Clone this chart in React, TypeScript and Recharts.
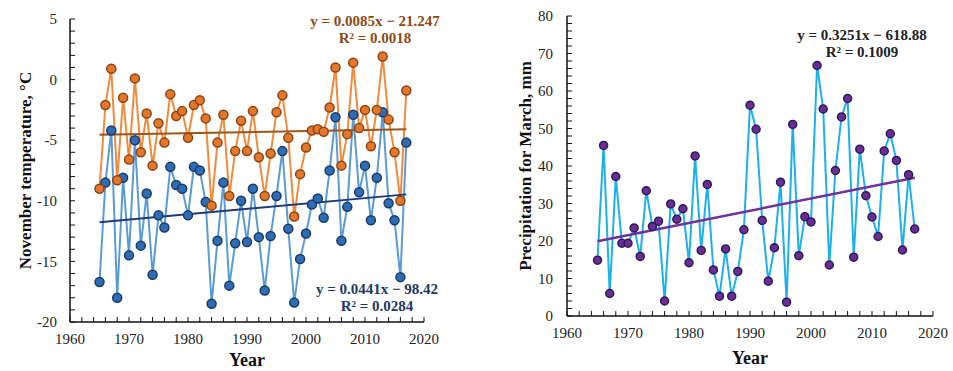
import { ComposedChart, Line, XAxis, YAxis } from 'recharts';

const years = [
  1965, 1966, 1967, 1968, 1969, 1970, 1971, 1972, 1973, 1974,
  1975, 1976, 1977, 1978, 1979, 1980, 1981, 1982, 1983, 1984,
  1985, 1986, 1987, 1988, 1989, 1990, 1991, 1992, 1993, 1994,
  1995, 1996, 1997, 1998, 1999, 2000, 2001, 2002, 2003, 2004,
  2005, 2006, 2007, 2008, 2009, 2010, 2011, 2012, 2013, 2014,
  2015, 2016, 2017,
];

// November temperature, upper (orange) series
const tempOrange = [
  -9.0, -2.1, 0.9, -8.3, -1.5, -6.6, 0.1, -6.0, -2.8, -7.1,
  -3.6, -5.2, -1.2, -3.0, -2.6, -4.8, -2.1, -1.7, -3.2, -10.4,
  -5.2, -2.9, -9.6, -5.9, -3.4, -5.9, -2.6, -6.4, -9.6, -6.1,
  -2.7, -1.3, -4.8, -11.3, -7.8, -5.6, -4.2, -4.1, -4.3, -2.3,
  1.0, -7.1, -4.5, 1.4, -4.0, -2.5, -5.5, -2.5, 1.9, -3.3,
  -6.0, -10.0, -0.9,
];

// November temperature, lower (blue) series
const tempBlue = [
  -16.7, -8.5, -4.2, -18.0, -8.1, -14.5, -5.0, -13.7, -9.4, -16.1,
  -11.2, -12.2, -7.2, -8.7, -9.0, -11.2, -7.2, -7.5, -10.1, -18.5,
  -13.3, -8.5, -17.0, -13.5, -10.0, -13.4, -9.0, -13.0, -17.4, -12.9,
  -9.6, -5.9, -12.3, -18.4, -14.8, -12.7, -10.3, -9.8, -11.4, -7.5,
  -3.1, -13.3, -10.5, -2.9, -9.3, -7.1, -11.6, -8.1, -2.7, -10.2,
  -11.6, -16.3, -5.2,
];

// March precipitation, mm
const precipMarch = [
  14.9, 45.5, 6.0, 37.2, 19.4, 19.4, 23.5, 15.9, 33.4, 23.9,
  25.3, 4.0, 29.9, 25.8, 28.6, 14.2, 42.7, 17.5, 35.1, 12.3,
  5.3, 17.9, 5.3, 11.9, 23.0, 56.2, 49.8, 25.5, 9.3, 18.2,
  35.7, 3.7, 51.1, 16.1, 26.5, 25.1, 66.8, 55.2, 13.6, 38.8,
  53.1, 58.0, 15.7, 44.5, 32.1, 26.4, 21.2, 44.0, 48.6, 41.5,
  17.6, 37.7, 23.2,
];

// linear trend end points (first and last year)
const trendYears = [1965, 2017];
const trendOrange = [-4.55, -4.10];
const trendBlue = [-11.76, -9.47];
const trendPrecip = [19.94, 36.85];

const xTickLabels = [1960, 1970, 1980, 1990, 2000, 2010, 2020];
const tempTickLabels = [5, 0, -5, -10, -15, -20];
const precipTickLabels = [0, 10, 20, 30, 40, 50, 60, 70, 80];

const range = (from: number, to: number, step: number) => {
  const out: number[] = [];
  for (let v = from; v <= to + 1e-9; v += step) out.push(v);
  return out;
};

const FONT = '"Liberation Serif", "Times New Roman", serif';

const tempData = years.map((year, i) => ({ year, orange: tempOrange[i], blue: tempBlue[i] }));
const precipData = years.map((year, i) => ({ year, precip: precipMarch[i] }));
const trendData = trendYears.map((year, i) => ({
  year,
  orange: trendOrange[i],
  blue: trendBlue[i],
  precip: trendPrecip[i],
}));

const makeTick = (labels: number[], anchor: 'end' | 'middle') => (props: any) => {
  const { x, y, payload } = props;
  if (!labels.includes(payload.value)) return <g />;
  return (
    <text
      x={x}
      y={y}
      dy={anchor === 'end' ? '0.35em' : '0.71em'}
      textAnchor={anchor}
      fontFamily={FONT}
      fontSize={15}
      fill="#222"
    >
      {payload.value}
    </text>
  );
};

const axisLine = { stroke: '#111', strokeWidth: 1.5 };
const tickLine = { stroke: '#111', strokeWidth: 1 };

const eqStyle = (color: string, left: number, top: number): React.CSSProperties => ({
  position: 'absolute',
  left,
  top,
  width: 180,
  textAlign: 'center',
  fontFamily: FONT,
  fontWeight: 'bold',
  fontSize: 15,
  lineHeight: '17px',
  color,
  whiteSpace: 'nowrap',
});

export default function App() {
  return (
    <div style={{ position: 'absolute', left: 0, top: 0, width: 953, height: 371, background: '#fff' }}>
      <div style={{ position: 'absolute', left: 0, top: 0 }}>
        <ComposedChart width={440} height={371} data={tempData} margin={{ top: 19, right: 16, bottom: 0, left: 0 }}>
          <XAxis
            dataKey="year"
            type="number"
            domain={[1960, 2020]}
            ticks={range(1960, 2020, 2)}
            interval={0}
            height={49}
            axisLine={axisLine}
            tickLine={tickLine}
            tickSize={-5}
            tickMargin={16}
            tick={makeTick(xTickLabels, 'middle')}
            label={{ value: 'Year', position: 'insideBottom', offset: 5, fontFamily: FONT, fontWeight: 'bold', fontSize: 18, fill: '#111' }}
          />
          <YAxis
            type="number"
            domain={[-20, 5]}
            ticks={range(-20, 5, 1)}
            interval={0}
            width={70}
            axisLine={axisLine}
            tickLine={tickLine}
            tickSize={-5}
            tickMargin={18}
            tick={makeTick(tempTickLabels, 'end')}
            label={{ value: 'November temperature, °C', angle: -90, position: 'center', dx: -10, fontFamily: FONT, fontWeight: 'bold', fontSize: 17, fill: '#111' }}
          />
          <Line
            dataKey="blue"
            stroke="#5B9BD5"
            strokeWidth={2}
            dot={{ r: 4.5, fill: '#2E6DB4', stroke: '#1B3A6B', strokeWidth: 1.5 }}
            isAnimationActive={false}
          />
          <Line
            dataKey="orange"
            stroke="#F28A3C"
            strokeWidth={2}
            dot={{ r: 4.5, fill: '#E5772A', stroke: '#8A4515', strokeWidth: 1.5 }}
            isAnimationActive={false}
          />
          <Line data={trendData} dataKey="orange" stroke="#9A561C" strokeWidth={2} dot={false} isAnimationActive={false} />
          <Line data={trendData} dataKey="blue" stroke="#1F3A7A" strokeWidth={2} dot={false} isAnimationActive={false} />
        </ComposedChart>
        <div style={eqStyle('#8E4A16', 285, 13)}>
          y = 0.0085x − 21.247
          <br />
          R² = 0.0018
        </div>
        <div style={eqStyle('#1F3864', 287, 281)}>
          y = 0.0441x − 98.42
          <br />
          R² = 0.0284
        </div>
      </div>

      <div style={{ position: 'absolute', left: 480, top: 0 }}>
        <ComposedChart width={473} height={371} data={precipData} margin={{ top: 16, right: 20, bottom: 0, left: 0 }}>
          <XAxis
            dataKey="year"
            type="number"
            domain={[1960, 2020]}
            ticks={range(1960, 2020, 2)}
            interval={0}
            height={55}
            axisLine={axisLine}
            tickLine={tickLine}
            tickSize={-5}
            tickMargin={16}
            tick={makeTick(xTickLabels, 'middle')}
            label={{ value: 'Year', position: 'insideBottom', offset: 7, fontFamily: FONT, fontWeight: 'bold', fontSize: 18, fill: '#111' }}
          />
          <YAxis
            type="number"
            domain={[0, 80]}
            ticks={range(0, 80, 2)}
            interval={0}
            width={87}
            axisLine={axisLine}
            tickLine={tickLine}
            tickSize={-5}
            tickMargin={19}
            tick={makeTick(precipTickLabels, 'end')}
            label={{ value: 'Precipitation for March, mm', angle: -90, position: 'center', dx: 1, fontFamily: FONT, fontWeight: 'bold', fontSize: 17, fill: '#111' }}
          />
          <Line
            dataKey="precip"
            stroke="#1CB0EC"
            strokeWidth={2}
            dot={{ r: 4, fill: '#6B2D92', stroke: '#2B1B5E', strokeWidth: 1.5 }}
            isAnimationActive={false}
          />
          <Line data={trendData} dataKey="precip" stroke="#7030A0" strokeWidth={2.5} dot={false} isAnimationActive={false} />
        </ComposedChart>
        <div style={eqStyle('#222', 292, 27)}>
          y = 0.3251x − 618.88
          <br />
          R² = 0.1009
        </div>
      </div>
    </div>
  );
}
